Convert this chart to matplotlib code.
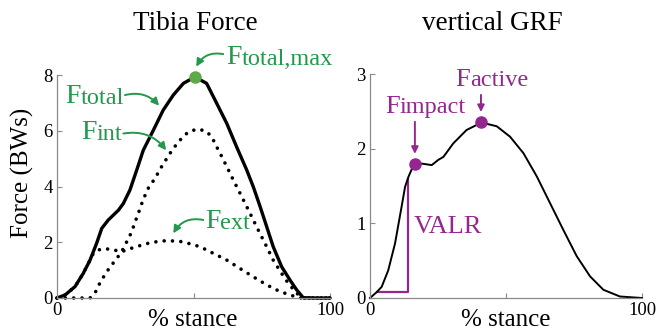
import matplotlib
matplotlib.use("Agg")
import matplotlib.pyplot as plt
from matplotlib.transforms import blended_transform_factory

plt.rcParams['font.family'] = ['Liberation Serif', 'DejaVu Serif']

# ---- Data: Tibia force (BWs) vs % stance ----
ftotal_x = [0, 3, 6.6, 9.6, 12.1, 14.5, 16.4, 18.8, 22.5, 24.3, 26.7, 29.2, 31.6, 35.3,
            38.9, 42.6, 46.3, 50.5, 54.8, 57.9, 62.2, 65.8, 69.5, 71.9, 74.4, 76.8,
            79.2, 82.3, 85.3, 87.8, 90.2, 95, 100]
ftotal_y = [0, 0.11, 0.41, 0.88, 1.36, 1.96, 2.5, 2.8, 3.15, 3.39, 3.87, 4.59, 5.3, 6.02,
            6.74, 7.28, 7.7, 7.93, 7.7, 7.1, 6.26, 5.42, 4.59, 3.99, 3.28, 2.56,
            1.84, 1.12, 0.65, 0.29, 0.01, 0, 0]

fint_x = [0, 5, 10, 12.1, 13.9, 15.1, 16.7, 18.2, 20, 21.9, 23.7, 24.9, 26.4, 27.6, 28.6,
          29.8, 31.6, 33.5, 35.9, 38.3, 41.4, 44.4, 48.1, 51.4, 54.6, 56.7, 58.5, 59.7,
          62.2, 64.6, 67.7, 70.7, 73.7, 76.8, 79.2, 82.3, 84.7, 87.8, 90.2, 95, 100]
fint_y = [0, 0, 0, 0, 0.17, 0.43, 0.7, 0.94, 1.18, 1.42, 1.66, 1.9, 2.17, 2.44, 2.73,
          3.04, 3.54, 3.95, 4.29, 4.71, 5.19, 5.6, 5.96, 6.06, 5.99, 5.78, 5.42, 5.2,
          4.71, 4.23, 3.63, 3.04, 2.44, 1.84, 1.36, 0.88, 0.53, 0.17, 0, 0, 0]

fext_x = [0, 3, 6.6, 9.6, 12.1, 13.3, 15.1, 17, 19.4, 21.9, 23.7, 26.7, 29.2, 31.6, 35,
          40.2, 45.1, 48.5, 52.4, 57.3, 62.2, 67, 71.9, 76.8, 81.7, 86.6, 89.4, 95, 100]
fext_y = [0, 0.11, 0.41, 0.88, 1.36, 1.6, 1.72, 1.77, 1.75, 1.7, 1.66, 1.77, 1.84, 1.92, 2.0,
          2.06, 2.03, 1.95, 1.84, 1.6, 1.36, 1.06, 0.76, 0.47, 0.23, 0.07, 0, 0, 0]

ftotal_max = (50.5, 7.93)

# ---- Data: vertical GRF (BWs) vs % stance ----
grf_x = [0, 2.5, 4.3, 6.7, 9.2, 11.6, 12.9, 14.1, 16.0, 19, 22.7, 25.1, 27, 30.6, 35.5,
         41, 46.6, 51.5, 56.4, 61.3, 66.2, 71.1, 76, 80.9, 85.8, 91.9, 100]
grf_y = [0, 0.08, 0.15, 0.37, 0.73, 1.22, 1.49, 1.62, 1.78, 1.8, 1.78, 1.85, 1.89, 2.07, 2.25,
         2.35, 2.3, 2.16, 1.94, 1.63, 1.27, 0.91, 0.56, 0.29, 0.11, 0.02, 0]
f_impact = (16.5, 1.79)
f_active = (40.8, 2.36)
valr_x = [2.5, 13.9, 13.9]
valr_y = [0.08, 0.08, 1.6]

GREEN = '#22994c'
GREEN_DOT = '#5cab47'
PURPLE = '#93278f'
SPINE = '#8a8a8a'

fig = plt.figure(figsize=(6.57, 3.3), dpi=100)
ax1 = fig.add_axes([57/657, 32/330, 273/657, 223/330])
ax2 = fig.add_axes([370/657, 32/330, 272/657, 224/330])


def style(ax, ymax, yticks):
    ax.set_xlim(0, 100)
    ax.set_ylim(0, ymax)
    for s in ['top', 'right']:
        ax.spines[s].set_visible(False)
    for s in ['left', 'bottom']:
        ax.spines[s].set_color(SPINE)
        ax.spines[s].set_linewidth(0.9)
    ax.set_xticks([0, 50, 100])
    ax.set_xticklabels(['0', '', '100'])
    ax.set_yticks(yticks)
    ax.tick_params(direction='in', length=3.5, color=SPINE, labelsize=13.5, pad=3)
    ax.patch.set_alpha(0)


style(ax1, 8, [0, 2, 4, 6, 8])
style(ax2, 3, [0, 1, 2, 3])

# ---- Tibia force panel ----
dot = (0, (0.01, 2.3))
ax1.plot(fext_x, fext_y, color='black', lw=2.6, linestyle=dot, dash_capstyle='round', clip_on=False)
ax1.plot(fint_x, fint_y, color='black', lw=2.6, linestyle=dot, dash_capstyle='round', clip_on=False)
ax1.plot(ftotal_x, ftotal_y, color='black', lw=2.4, clip_on=False,
         solid_capstyle='round', solid_joinstyle='round')
ax1.plot([ftotal_max[0]], [ftotal_max[1]], 'o', color=GREEN_DOT, ms=8, clip_on=False, zorder=5)


def flabel(ax, x, y, sub, color, big=20, small=17.5):
    t = ax.text(x, y, 'F', color=color, fontsize=big, ha='left', va='baseline')
    ax.annotate(sub, xy=(1, 0), xycoords=t, color=color, fontsize=small,
                ha='left', va='bottom')
    return t


def curved(ax, start, end, color, rad):
    ax.annotate('', xy=end, xytext=start, xycoords='data', textcoords='data',
                arrowprops=dict(arrowstyle='-|>', color=color, lw=1.4,
                                mutation_scale=11, shrinkA=0, shrinkB=0,
                                connectionstyle='arc3,rad=%g' % rad),
                annotation_clip=False)


flabel(ax1, 62.1, 8.39, 'total,max', GREEN)
curved(ax1, (60.9, 8.75), (51.0, 8.3), GREEN, 0.35)
flabel(ax1, 2.9, 7.0, 'total', GREEN)
curved(ax1, (24.9, 7.28), (37.4, 6.9), GREEN, -0.3)
flabel(ax1, 8.8, 5.69, 'int', GREEN)
curved(ax1, (24.3, 5.9), (40.0, 5.3), GREEN, -0.3)
flabel(ax1, 54.2, 2.5, 'ext', GREEN)
curved(ax1, (53.6, 2.8), (42.6, 2.32), GREEN, 0.35)

tr1 = blended_transform_factory(ax1.transData, ax1.transAxes)
ax1.text(50.7, 1 + 45/223, 'Tibia Force', transform=tr1, fontsize=19.5,
         ha='center', va='baseline')
ax1.text(49.6, -28/223, '% stance', transform=tr1, fontsize=18,
         ha='center', va='baseline')
ax1.text(-0.128, 0.563, 'Force (BWs)', transform=ax1.transAxes, fontsize=18,
         rotation=90, ha='center', va='center')

# ---- vertical GRF panel ----
ax2.plot(valr_x, valr_y, color=PURPLE, lw=1.6, clip_on=False)
ax2.plot(grf_x, grf_y, color='black', lw=1.4, clip_on=False, solid_joinstyle='round')
ax2.plot([f_impact[0], f_active[0]], [f_impact[1], f_active[1]], 'o', color=PURPLE,
         ms=8, clip_on=False, zorder=5)
ax2.text(15.9, 0.875, 'VALR', color=PURPLE, fontsize=19, ha='left', va='baseline')
flabel(ax2, 5.5, 2.48, 'impact', PURPLE, big=19, small=17.5)
flabel(ax2, 31.25, 2.84, 'active', PURPLE, big=19, small=17.5)
ax2.annotate('', xy=(16.5, 1.93), xytext=(16.5, 2.36),
             arrowprops=dict(arrowstyle='-|>', color=PURPLE, lw=1.4, mutation_scale=10,
                             shrinkA=0, shrinkB=0))
ax2.annotate('', xy=(40.8, 2.49), xytext=(40.8, 2.72),
             arrowprops=dict(arrowstyle='-|>', color=PURPLE, lw=1.4, mutation_scale=10,
                             shrinkA=0, shrinkB=0))

tr2 = blended_transform_factory(ax2.transData, ax2.transAxes)
ax2.text(45, 1 + 44/224, 'vertical GRF', transform=tr2, fontsize=19.5,
         ha='center', va='baseline')
ax2.text(50, -28/224, '% stance', transform=tr2, fontsize=18,
         ha='center', va='baseline')

fig.savefig('out.png', dpi=100)
